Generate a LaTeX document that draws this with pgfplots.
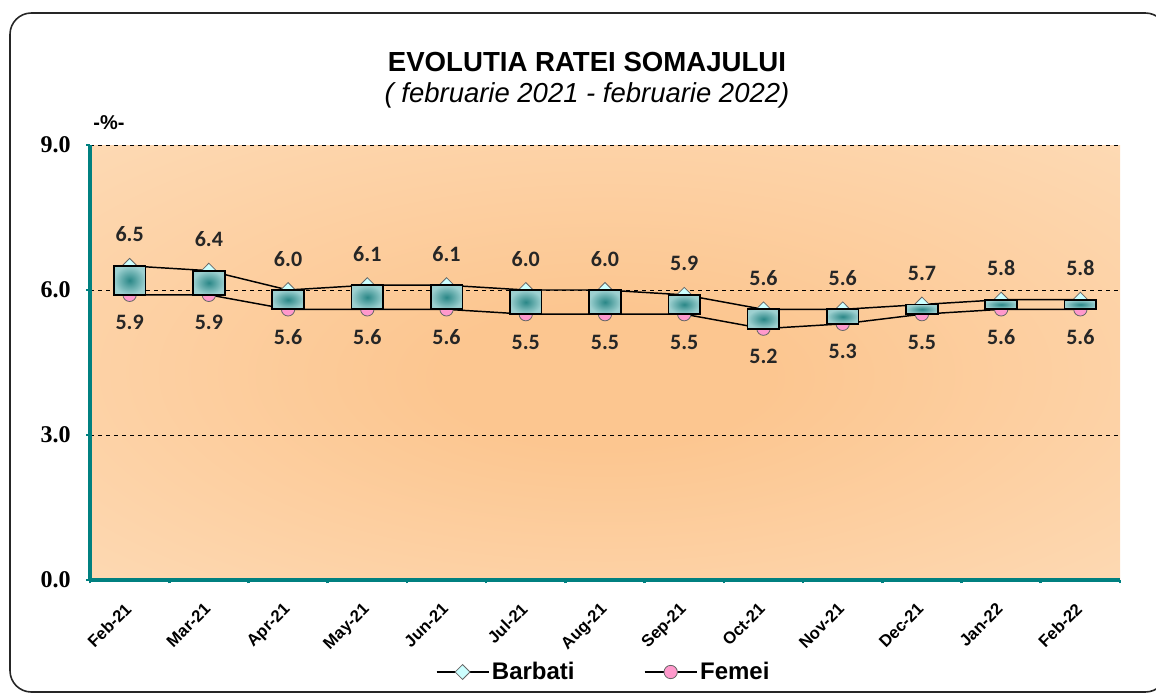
\documentclass[border=0pt]{standalone}
\usepackage{pgfplots}
\pgfplotsset{compat=1.18}
\usepackage{fontspec}
\setmainfont{Liberation Sans}
\newfontfamily\calibri{Carlito}
\newfontfamily\timesf{Liberation Serif}
\definecolor{axteal}{HTML}{008080}
\definecolor{bgin}{HTML}{FCC690}
\definecolor{bgout}{HTML}{FEDFBE}
\definecolor{boxin}{HTML}{2A8787}
\definecolor{boxout}{HTML}{9DD0D0}
\definecolor{barb}{HTML}{CCFFFF}
\definecolor{fem}{HTML}{FF99CC}
\pgfdeclareradialshading{bgshade}{\pgfpoint{0bp}{-2bp}}{color(0bp)=(bgin); color(8bp)=(bgin); color(44bp)=(bgout); color(50bp)=(bgout)}
\pgfplotsset{
  common/.style={
    at={(67.5pt,85.5pt)}, anchor=south west,
    scale only axis, width=772.5pt, height=326.25pt,
    xmin=-0.5, xmax=12.5, ymin=0, ymax=9, clip=false},
  boxplot/.style={draw=black, line width=1.3pt, inner color=boxin, outer color=boxout},
}
\begin{document}
\begin{tikzpicture}
\useasboundingbox (0,0) rectangle (867pt,520.5pt);
\draw[line width=1.2pt, black!85, rounded corners=16pt] (7.5pt,1.5pt) rectangle (875pt,510.75pt);
\node[anchor=base, font=\bfseries\fontsize{20.7}{24}\selectfont] at (440.25pt,466.5pt) {EVOLUTIA RATEI SOMAJULUI};
\node[anchor=base, font=\itshape\fontsize{20.6}{24}\selectfont] at (440.25pt,443.25pt) {( februarie 2021 - februarie 2022)};
\node[anchor=base, font=\bfseries\fontsize{15}{18}\selectfont] at (81.75pt,423pt) {-\%-};
\begin{axis}[
  common,
  axis x line*=bottom, axis y line*=left,
  axis line style={-, draw=axteal, line width=3pt},
  axis background/.style={shade, shading=bgshade},
  ytick={0,3,6,9},
  ymajorgrids, grid style={dashed, black, line width=0.7pt},
  /pgf/number format/assume math mode=true,
  yticklabel={\pgfmathprintnumber[fixed,fixed zerofill,precision=1]{\tick}},
  yticklabel style={font=\timesf\bfseries\fontsize{18}{20}\selectfont, xshift=-8pt},
  xtick={0,...,12},
  xticklabels={Feb-21,Mar-21,Apr-21,May-21,Jun-21,Jul-21,Aug-21,Sep-21,Oct-21,Nov-21,Dec-21,Jan-22,Feb-22},
  xticklabel style={rotate=45, anchor=north east, font=\bfseries\fontsize{12.5}{14}\selectfont, yshift=-3pt, xshift=-9pt},
  minor xtick={-0.5,0.5,...,12.5},
  tick align=outside,
  major tick length=3pt, minor tick length=2.5pt,
  tick style={axteal, line width=2pt},
  major x tick style={draw=none},
  legend columns=2,
  legend style={at={(0.499,-0.2115)}, anchor=center, draw=none, fill=none,
    font=\bfseries\fontsize{18}{20}\selectfont,
    /tikz/every even column/.append style={column sep=50pt}},
  legend image code/.code={\draw[mark repeat=2,mark phase=2] plot coordinates {(0pt,0pt) (19.5pt,0pt) (39pt,0pt)};},
]
\addplot[black, line width=1.1pt, mark=diamond*, mark size=5.6pt,
  mark options={fill=barb, draw=black!60, line width=0.6pt, xscale=1.33},
  nodes near coords={\pgfmathprintnumber[fixed,fixed zerofill,precision=1]{\pgfplotspointmeta}},
  every node near coord/.append style={font=\calibri\bfseries\fontsize{16.5}{18}\selectfont, text=black!85, anchor=center, yshift=23.5pt}]
coordinates {(0,6.5) (1,6.4) (2,6.0) (3,6.1) (4,6.1) (5,6.0) (6,6.0) (7,5.9) (8,5.6) (9,5.6) (10,5.7) (11,5.8) (12,5.8)};
\addlegendentry{Barbati}
\addplot[black, line width=1.1pt, mark=*, mark size=5pt,
  mark options={fill=fem, draw=black!60, line width=0.6pt},
  nodes near coords={\pgfmathprintnumber[fixed,fixed zerofill,precision=1]{\pgfplotspointmeta}},
  every node near coord/.append style={font=\calibri\bfseries\fontsize{16.5}{18}\selectfont, text=black!85, anchor=center, yshift=-21pt}]
coordinates {(0,5.9) (1,5.9) (2,5.6) (3,5.6) (4,5.6) (5,5.5) (6,5.5) (7,5.5) (8,5.2) (9,5.3) (10,5.5) (11,5.6) (12,5.6)};
\addlegendentry{Femei}
\end{axis}
\begin{axis}[common, hide axis]
\addplot[boxplot] coordinates {(-0.2,5.9) (0.2,5.9) (0.2,6.5) (-0.2,6.5)} -- cycle;
\addplot[boxplot] coordinates {(0.8,5.9) (1.2,5.9) (1.2,6.4) (0.8,6.4)} -- cycle;
\addplot[boxplot] coordinates {(1.8,5.6) (2.2,5.6) (2.2,6.0) (1.8,6.0)} -- cycle;
\addplot[boxplot] coordinates {(2.8,5.6) (3.2,5.6) (3.2,6.1) (2.8,6.1)} -- cycle;
\addplot[boxplot] coordinates {(3.8,5.6) (4.2,5.6) (4.2,6.1) (3.8,6.1)} -- cycle;
\addplot[boxplot] coordinates {(4.8,5.5) (5.2,5.5) (5.2,6.0) (4.8,6.0)} -- cycle;
\addplot[boxplot] coordinates {(5.8,5.5) (6.2,5.5) (6.2,6.0) (5.8,6.0)} -- cycle;
\addplot[boxplot] coordinates {(6.8,5.5) (7.2,5.5) (7.2,5.9) (6.8,5.9)} -- cycle;
\addplot[boxplot] coordinates {(7.8,5.2) (8.2,5.2) (8.2,5.6) (7.8,5.6)} -- cycle;
\addplot[boxplot] coordinates {(8.8,5.3) (9.2,5.3) (9.2,5.6) (8.8,5.6)} -- cycle;
\addplot[boxplot] coordinates {(9.8,5.5) (10.2,5.5) (10.2,5.7) (9.8,5.7)} -- cycle;
\addplot[boxplot] coordinates {(10.8,5.6) (11.2,5.6) (11.2,5.8) (10.8,5.8)} -- cycle;
\addplot[boxplot] coordinates {(11.8,5.6) (12.2,5.6) (12.2,5.8) (11.8,5.8)} -- cycle;
\end{axis}
\end{tikzpicture}
\end{document}
